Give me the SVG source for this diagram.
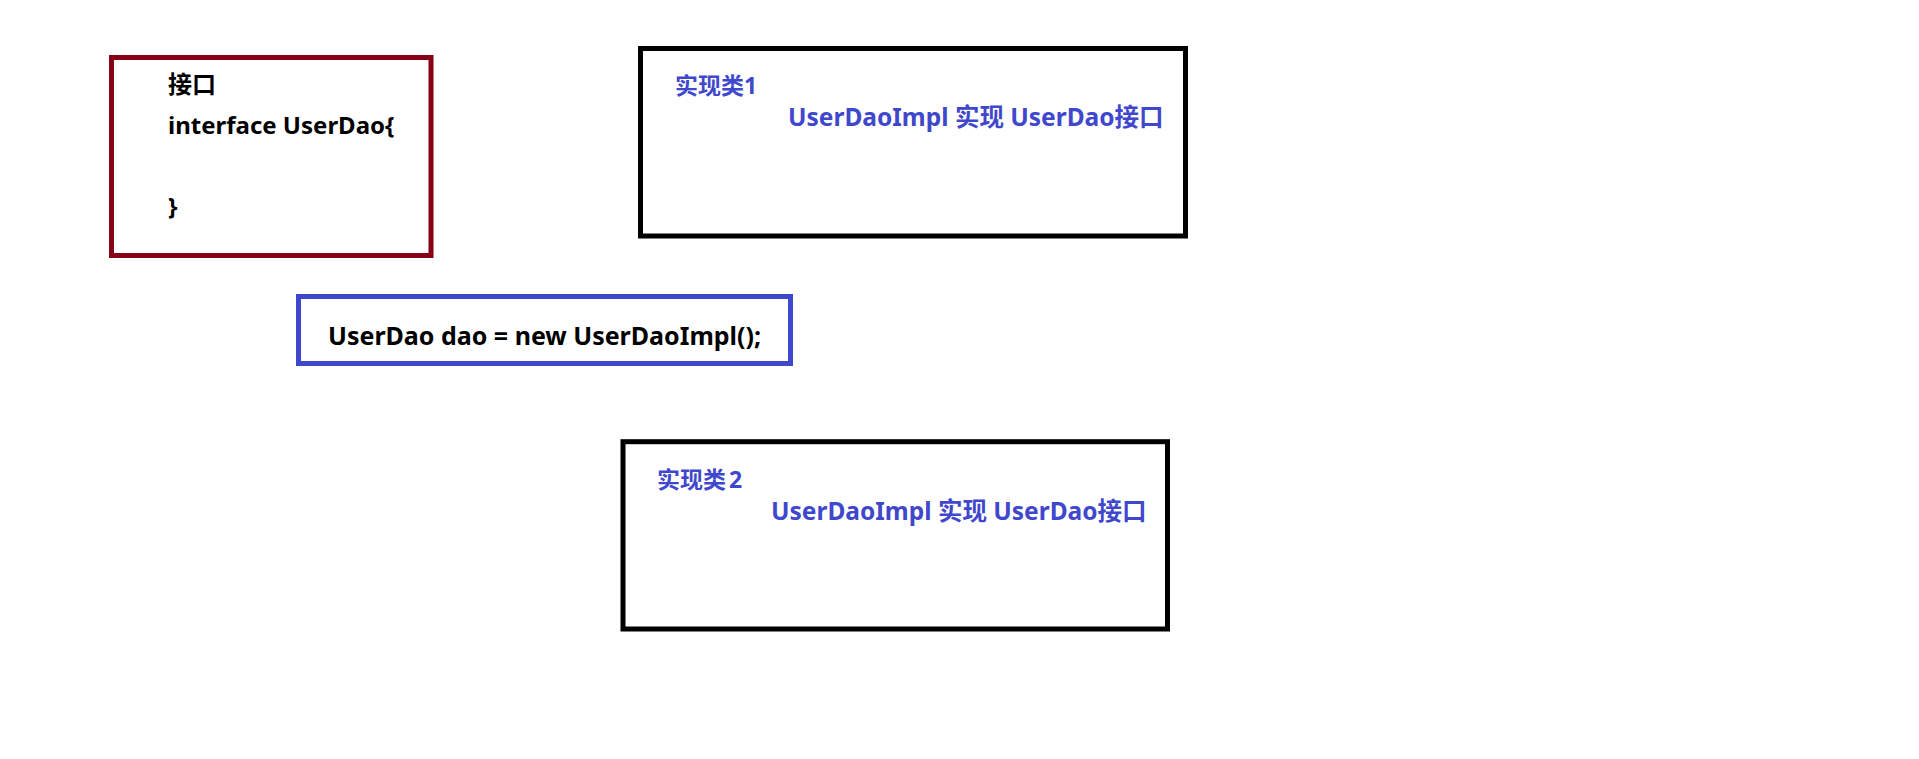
<svg xmlns="http://www.w3.org/2000/svg" width="1919" height="759" viewBox="0 0 1919 759">
  <style>
    .box { fill: #ffffff; stroke-width: 5; }
    .red { stroke: #880015; }
    .black { stroke: #000000; }
    .blue { stroke: #3F48CC; }
    .t { font-family: "Noto Sans", "Noto Sans CJK SC", sans-serif; font-weight: bold; }
    .tb { fill: #000000; font-size: 24px; }
    .tc { fill: #000000; font-size: 25px; }
    .h { fill: #3F48CC; font-size: 23px; }
    .s { fill: #3F48CC; font-size: 24.5px; }
  </style>
  <rect x="0" y="0" width="1919" height="759" fill="#ffffff"/>
  <g id="connectors"/>
  <g id="interface-box">
    <rect class="box red" x="111.5" y="57.5" width="319.5" height="198"/>
    <text class="t tb" x="168" y="93">接口</text>
    <text class="t tb" x="168" y="134">interface UserDao{</text>
    <text class="t tb" x="168" y="215">}</text>
  </g>
  <g id="impl1-box">
    <rect class="box black" x="640.5" y="48.5" width="545" height="187.5"/>
    <text class="t h" x="675" y="94">实现类1</text>
    <text class="t s" x="788" y="126">UserDaoImpl 实现 UserDao接口</text>
  </g>
  <g id="statement-box">
    <rect class="box blue" x="298.5" y="296.5" width="492" height="67"/>
    <text class="t tc" x="328" y="345">UserDao dao = new UserDaoImpl();</text>
  </g>
  <g id="impl2-box">
    <rect class="box black" x="623" y="441.7" width="544.5" height="187.3"/>
    <text class="t h" x="657" y="488">实现类<tspan dx="3">2</tspan></text>
    <text class="t s" x="771" y="520">UserDaoImpl 实现 UserDao接口</text>
  </g>
</svg>
